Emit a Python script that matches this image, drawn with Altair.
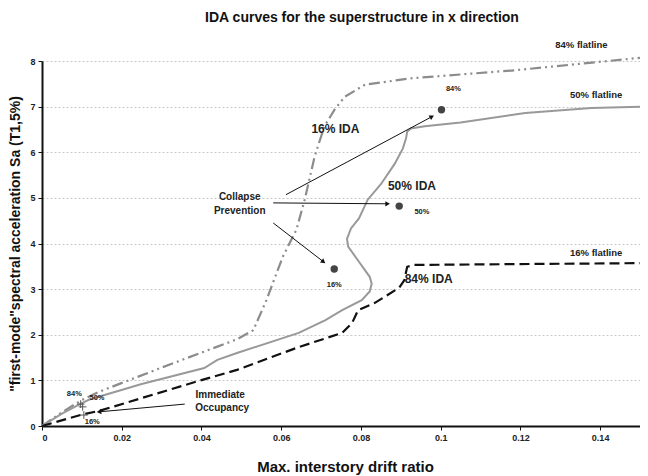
import math
import altair as alt
import pandas as pd

# ---- curve data ----
ida16_x = [0, 0.005, 0.01, 0.0143, 0.03, 0.044, 0.0489, 0.053, 0.0563, 0.0604, 0.0638, 0.0659, 0.0684, 0.0708, 0.0735, 0.0760, 0.081, 0.0925, 0.119, 0.15]
ida16_y = [0, 0.30, 0.57, 0.75, 1.28, 1.74, 1.90, 2.10, 2.76, 3.71, 4.30, 4.96, 5.91, 6.56, 6.95, 7.22, 7.48, 7.62, 7.80, 8.07]

ida50_x = [0, 0.005, 0.01, 0.0119, 0.025, 0.0407, 0.044, 0.0489, 0.0644, 0.0711, 0.0753, 0.0802, 0.0822, 0.0827, 0.0822, 0.0795, 0.0768, 0.0765, 0.0775, 0.0795, 0.0817, 0.085, 0.0885, 0.0905, 0.0913, 0.0916, 0.0925, 0.096, 0.105, 0.1212, 0.1378, 0.15]
ida50_y = [0, 0.27, 0.50, 0.58, 0.92, 1.27, 1.45, 1.60, 2.04, 2.32, 2.54, 2.76, 2.95, 3.12, 3.27, 3.60, 3.93, 4.10, 4.33, 4.55, 4.96, 5.30, 5.75, 6.08, 6.30, 6.45, 6.52, 6.57, 6.65, 6.86, 6.97, 7.00]

ida84_x = [0, 0.01, 0.0143, 0.039, 0.0489, 0.0644, 0.0753, 0.0778, 0.0793, 0.0835, 0.0896, 0.0909, 0.0916, 0.0933, 0.15]
ida84_y = [0, 0.25, 0.33, 0.98, 1.23, 1.73, 2.04, 2.26, 2.54, 2.70, 3.03, 3.20, 3.49, 3.53, 3.57]

# collapse prevention points
cp_x = [0.0733, 0.0896, 0.1002]
cp_y = [3.44, 4.82, 6.93]
cp_lab = ["16%", "50%", "84%"]

# immediate occupancy points
io_x = [0.0097, 0.0102, 0.0105]
io_y = [0.48, 0.42, 0.24]

# arrows: start / end
arr_x1 = [0.0612, 0.0580, 0.0580, 0.0358]
arr_y1 = [5.07, 4.89, 4.45, 0.48]
arr_x2 = [0.0978, 0.0867, 0.0706, 0.0143]
arr_y2 = [6.78, 4.87, 3.60, 0.31]

# labels
title_text = "IDA curves for the superstructure in x direction"

big_txt = ["16% IDA", "50% IDA", "84% IDA"]
big_x = [0.0736, 0.0928, 0.0970]
big_y = [6.51, 5.26, 3.22]

mid_txt = ["Collapse", "Prevention", "Immediate", "Occupancy"]
mid_x = [0.0496, 0.0496, 0.0447, 0.0452]
mid_y = [5.02, 4.71, 0.68, 0.39]

flat_txt = ["84% flatline", "50% flatline", "16% flatline"]
flat_x = [0.1353, 0.1390, 0.1390]
flat_y = [8.36, 7.26, 3.79]

small_txt = ["84%", "50%", "16%", "84%", "50%", "16%"]
small_x = [0.1032, 0.0953, 0.0733, 0.0081, 0.0138, 0.0126]
small_y = [7.39, 4.69, 3.09, 0.70, 0.61, 0.09]

x_ticks = [0, 0.02, 0.04, 0.06, 0.08, 0.10, 0.12, 0.14]
y_ticks = [0, 1, 2, 3, 4, 5, 6, 7, 8]

W, H = 598, 365
XMAX, YMAX = 0.15, 8
FONT = "Liberation Sans"

xs = alt.Scale(domain=[0, XMAX], nice=False, zero=False)
ys = alt.Scale(domain=[0, YMAX], nice=False)

def curve(xv, yv):
    return pd.DataFrame({"x": xv, "y": yv, "i": list(range(len(xv)))})

X = alt.X("x:Q", scale=xs,
          axis=alt.Axis(values=x_ticks, format="~g", title="Max. interstory drift ratio",
                        grid=False, titleX=303, titleY=40, titleBaseline="middle",
                        titleFontSize=15))
Y = alt.Y("y:Q", scale=ys,
          axis=alt.Axis(values=y_ticks, title='"first-mode"spectral acceleration Sa (T1,5%)',
                        grid=True, gridDash=[2, 2], gridColor="#c8c8c8", gridWidth=1,
                        titleX=-27, titleY=H / 2, titleAngle=-90, titleBaseline="middle",
                        titleFontSize=14))

l16 = alt.Chart(curve(ida16_x, ida16_y)).mark_line(
    color="#8c8c8c", strokeWidth=2.2, strokeDash=[11, 4, 2, 4, 2, 4]
).encode(x=X, y=Y, order="i:Q")

l50 = alt.Chart(curve(ida50_x, ida50_y)).mark_line(
    color="#999999", strokeWidth=2
).encode(x="x:Q", y="y:Q", order="i:Q")

l84 = alt.Chart(curve(ida84_x, ida84_y)).mark_line(
    color="#111111", strokeWidth=2.2, strokeDash=[10, 5]
).encode(x="x:Q", y="y:Q", order="i:Q")

cp = alt.Chart(pd.DataFrame({"x": cp_x, "y": cp_y, "l": cp_lab})).mark_point(
    filled=True, color="#444444", size=55, opacity=1
).encode(x="x:Q", y="y:Q")

io = alt.Chart(pd.DataFrame({"x": io_x, "y": io_y})).mark_point(
    shape="M-1,0L1,0M0,-1L0,1", filled=False, color="#555555", size=60, strokeWidth=1, opacity=1
).encode(x="x:Q", y="y:Q")

# arrows
sx, sy = W / XMAX, H / YMAX
ang = []
for a, b, c, d in zip(arr_x1, arr_y1, arr_x2, arr_y2):
    dx = (c - a) * sx
    dys = -(d - b) * sy
    ang.append(math.degrees(math.atan2(dx, -dys)) % 360)
arr_df = pd.DataFrame({"x": arr_x1, "y": arr_y1, "x2": arr_x2, "y2": arr_y2, "ang": ang})

arr_lines = alt.Chart(arr_df).mark_rule(color="#111111", strokeWidth=1).encode(
    x="x:Q", y="y:Q", x2="x2:Q", y2="y2:Q")
arr_heads = alt.Chart(arr_df).mark_point(
    shape="triangle-up", filled=True, color="#111111", size=28, opacity=1
).encode(x="x2:Q", y="y2:Q", angle=alt.Angle("ang:Q", scale=None))

def texts(t, xv, yv, size):
    return alt.Chart(pd.DataFrame({"t": t, "x": xv, "y": yv})).mark_text(
        font=FONT, fontWeight="bold", fontSize=size, color="#222222",
        align="center", baseline="middle"
    ).encode(x="x:Q", y="y:Q", text="t:N")

t_big = texts(big_txt, big_x, big_y, 12)
t_mid = texts(mid_txt, mid_x, mid_y, 10)
t_flat = texts(flat_txt, flat_x, flat_y, 9.5)
t_small = texts(small_txt, small_x, small_y, 7.5)

t_title = alt.Chart(pd.DataFrame({"t": [title_text]})).mark_text(
    font=FONT, fontWeight="bold", fontSize=14, color="#111111",
    align="center", baseline="middle"
).encode(x=alt.value(320), y=alt.value(-43), text="t:N")

chart = alt.layer(
    l16, l50, l84, arr_lines, arr_heads, cp, io, t_big, t_mid, t_flat, t_small, t_title
).properties(
    width=W, height=H,
    autosize=alt.AutoSizeParams(type="none"),
    padding={"left": 34, "top": 53, "right": 0, "bottom": 50},
).configure_view(stroke=None).configure_axis(
    domainColor="#111111", domainWidth=2, tickColor="#111111", tickSize=4,
    labelFont=FONT, labelFontWeight="bold", labelFontSize=9, labelColor="#222222",
    titleFont=FONT, titleFontWeight="bold", titleColor="#111111", labelPadding=3,
)

chart.save("out.html", embed_options={"renderer": "svg", "actions": False})
